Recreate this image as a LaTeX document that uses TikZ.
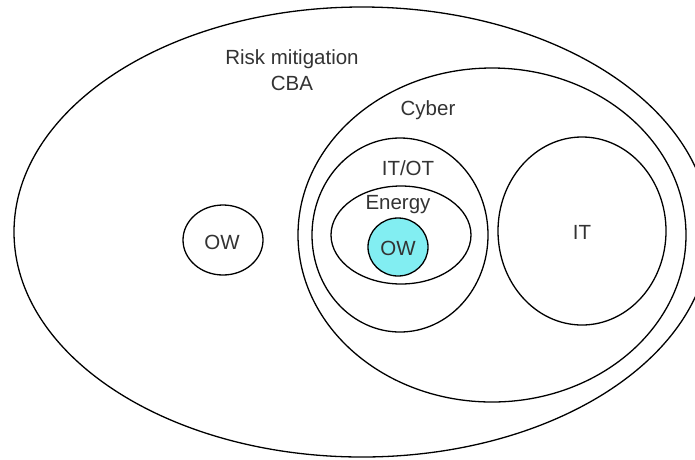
\documentclass[tikz,border=0pt]{standalone}
\usepackage{xcolor}
\usepackage{tikz}
\usepackage{fontspec}
\setmainfont{Liberation Sans}
\definecolor{ciano}{HTML}{82EEF2}
\definecolor{testo}{HTML}{333333}

\begin{document}
\begin{tikzpicture}[x=1pt, y=-1pt,
    bordo/.style={line width=1.3pt, color=black},
    etichetta/.style={font=\fontsize{20.5}{26}\selectfont, text=testo, inner sep=0pt, align=center}]
        % Cornice (695 x 459)
        \useasboundingbox (0,0) rectangle (695,459);

        % Ellisse esterna: Risk mitigation / CBA
        \draw[bordo] (362,232) ellipse [x radius=348pt, y radius=225pt];
        \node[etichetta] (risk) at (292,70) {Risk mitigation\\CBA};

        % OW (sinistra)
        \draw[bordo] (223,240) ellipse [x radius=40pt, y radius=35pt];
        \node[etichetta] (owsx) at (222,242) {OW};

        % Cyber
        \draw[bordo] (492,235) ellipse [x radius=194pt, y radius=167pt];
        \node[etichetta] (cyber) at (428,110) {Cyber};

        % IT/OT
        \draw[bordo] (400,235) ellipse [x radius=88pt, y radius=97pt];
        \node[etichetta] (itot) at (408,168) {IT/OT};

        % Energy
        \draw[bordo] (401,235) ellipse [x radius=70pt, y radius=49pt];
        \node[etichetta] (energy) at (398,205) {Energy};

        % OW (ciano)
        \draw[bordo, fill=ciano] (398,247) ellipse [x radius=30pt, y radius=29pt];
        \node[etichetta] (owcy) at (398,248) {OW};

        % IT
        \draw[bordo] (582,231) ellipse [x radius=84pt, y radius=94pt];
        \node[etichetta] (it) at (582,232) {IT};
    \end{tikzpicture}
\end{document}
